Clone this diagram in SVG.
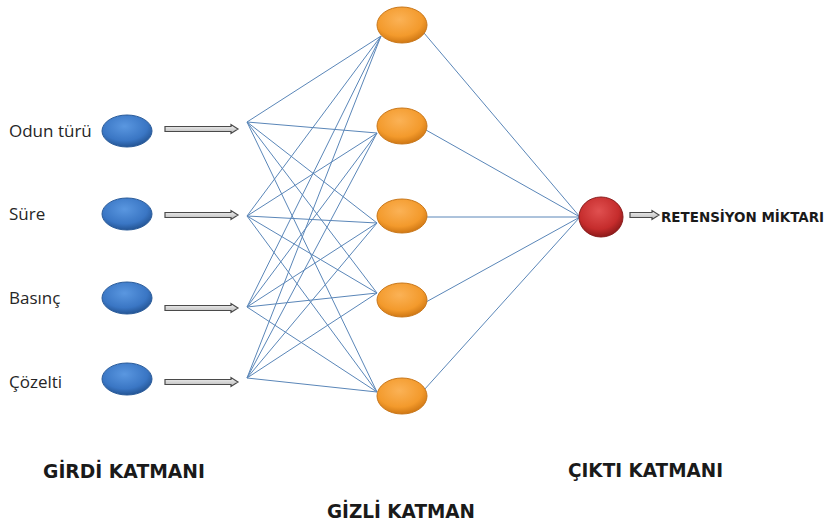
<svg xmlns="http://www.w3.org/2000/svg" width="832" height="525" viewBox="0 0 832 525">
<defs>
<radialGradient id="gBlue" cx="0.45" cy="0.35" r="0.65">
<stop offset="0" stop-color="#5a97e0"/>
<stop offset="0.7" stop-color="#3a76c4"/>
<stop offset="1" stop-color="#245595"/>
</radialGradient>
<radialGradient id="gOrange" cx="0.45" cy="0.35" r="0.65">
<stop offset="0" stop-color="#fbb256"/>
<stop offset="0.7" stop-color="#f39a2c"/>
<stop offset="1" stop-color="#d07814"/>
</radialGradient>
<radialGradient id="gRed" cx="0.45" cy="0.35" r="0.65">
<stop offset="0" stop-color="#e05050"/>
<stop offset="0.7" stop-color="#c52c2c"/>
<stop offset="1" stop-color="#8e1a1a"/>
</radialGradient>
<linearGradient id="gArrow" x1="0" y1="0" x2="0" y2="1">
<stop offset="0" stop-color="#f4f4f4"/>
<stop offset="1" stop-color="#b8b8b8"/>
</linearGradient>
</defs>
<style>
.lbl{font-family:"Open Sans","Liberation Sans",sans-serif;font-size:17px;fill:#262626}
.hdr{font-family:"DejaVu Sans","Liberation Sans",sans-serif;font-weight:bold;font-size:19px;fill:#1a1a1a}
.out{font-family:"DejaVu Sans Condensed","DejaVu Sans","Liberation Sans",sans-serif;font-weight:bold;font-size:14.5px;fill:#1a1a1a}
.blue{fill:url(#gBlue);stroke:#2b5c9a;stroke-width:1}
.orange{fill:url(#gOrange);stroke:#c9781c;stroke-width:1}
.red{fill:url(#gRed);stroke:#8a1c1c;stroke-width:1}
.conn line{stroke:#5a86b8;stroke-width:1}
.arr{fill:url(#gArrow);stroke:#4a4a4a;stroke-width:1.2;stroke-linejoin:miter}
</style>
<rect width="832" height="525" fill="#ffffff"/>

<g id="connectors" class="conn">
<line x1="247" y1="122" x2="381" y2="36"/>
<line x1="247" y1="122" x2="377" y2="133"/>
<line x1="247" y1="122" x2="377" y2="223"/>
<line x1="247" y1="122" x2="377" y2="293"/>
<line x1="247" y1="122" x2="377" y2="392"/>
<line x1="247" y1="216" x2="381" y2="36"/>
<line x1="247" y1="216" x2="377" y2="133"/>
<line x1="247" y1="216" x2="377" y2="223"/>
<line x1="247" y1="216" x2="377" y2="293"/>
<line x1="247" y1="216" x2="377" y2="392"/>
<line x1="247" y1="307" x2="381" y2="36"/>
<line x1="247" y1="307" x2="377" y2="133"/>
<line x1="247" y1="307" x2="377" y2="223"/>
<line x1="247" y1="307" x2="377" y2="293"/>
<line x1="247" y1="307" x2="377" y2="392"/>
<line x1="247" y1="378" x2="381" y2="36"/>
<line x1="247" y1="378" x2="377" y2="133"/>
<line x1="247" y1="378" x2="377" y2="223"/>
<line x1="247" y1="378" x2="377" y2="293"/>
<line x1="247" y1="378" x2="377" y2="392"/>
<line x1="424" y1="33" x2="580" y2="217"/>
<line x1="426" y1="130" x2="580" y2="217"/>
<line x1="426" y1="217" x2="580" y2="217"/>
<line x1="426" y1="302" x2="580" y2="217"/>
<line x1="424" y1="390" x2="580" y2="217"/>
<path class="arr" d="M165,126.5 H231 V124.5 L238,129 L231,133.5 V131.5 H165 Z"/>
<path class="arr" d="M165,212.5 H231 V210.5 L238,215 L231,219.5 V217.5 H165 Z"/>
<path class="arr" d="M165,305.5 H231 V303.5 L238,308 L231,312.5 V310.5 H165 Z"/>
<path class="arr" d="M165,379.5 H231 V377.5 L238,382 L231,386.5 V384.5 H165 Z"/>
<path class="arr" d="M630,212.5 H652 V210.5 L659,215 L652,219.5 V217.5 H630 Z"/>
</g>

<g id="in1"><ellipse class="blue" cx="127" cy="131" rx="25" ry="16"/><text class="lbl" x="9" y="137">Odun türü</text></g>
<g id="in2"><ellipse class="blue" cx="127" cy="214" rx="25" ry="16"/><text class="lbl" x="9" y="220">Süre</text></g>
<g id="in3"><ellipse class="blue" cx="127" cy="298" rx="25" ry="16"/><text class="lbl" x="9" y="304">Basınç</text></g>
<g id="in4"><ellipse class="blue" cx="127" cy="379" rx="25" ry="16"/><text class="lbl" x="9" y="388">Çözelti</text></g>

<g id="h1"><ellipse class="orange" cx="402" cy="25" rx="25" ry="18"/></g>
<g id="h2"><ellipse class="orange" cx="402" cy="126" rx="25" ry="18"/></g>
<g id="h3"><ellipse class="orange" cx="402" cy="216" rx="25" ry="17"/></g>
<g id="h4"><ellipse class="orange" cx="402" cy="300" rx="25" ry="17"/></g>
<g id="h5"><ellipse class="orange" cx="402" cy="396" rx="25" ry="18"/></g>

<g id="out"><ellipse class="red" cx="601" cy="217" rx="22" ry="20"/><text class="out" x="661" y="222" textLength="163" lengthAdjust="spacingAndGlyphs">RETENSİYON MİKTARI</text></g>

<g id="labels">
<text class="hdr" x="43" y="478" textLength="162" lengthAdjust="spacingAndGlyphs">GİRDİ KATMANI</text>
<text class="hdr" x="568" y="477" textLength="155" lengthAdjust="spacingAndGlyphs">ÇIKTI KATMANI</text>
<text class="hdr" x="327" y="518" textLength="148" lengthAdjust="spacingAndGlyphs">GİZLİ KATMAN</text>
</g>
</svg>
